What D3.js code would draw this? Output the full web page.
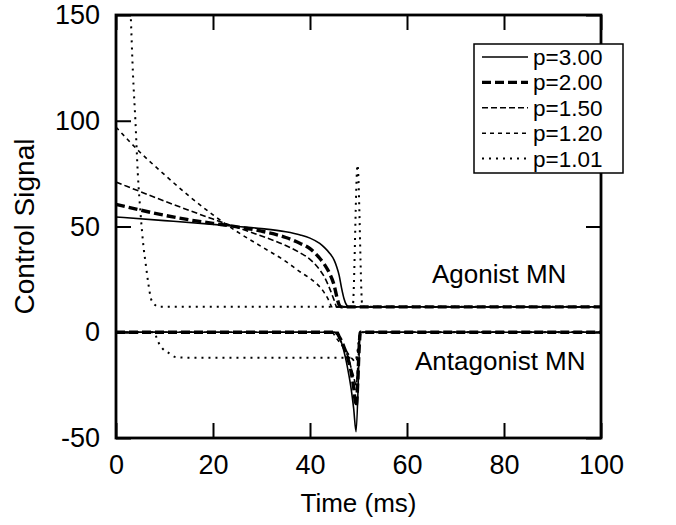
<!DOCTYPE html>
<html>
<head>
<meta charset="utf-8">
<script src="https://cdn.jsdelivr.net/npm/d3@7"></script>
<style>
  html, body { margin: 0; padding: 0; background: #fff; }
  svg { display: block; font-family: "Liberation Sans", Arial, sans-serif; }
</style>
</head>
<body>
<svg id="chart" width="676" height="525"></svg>
<script>
// ---------------- data ----------------
const seriesLabels = ["p=3.00", "p=2.00", "p=1.50", "p=1.20", "p=1.01"];
const xTicks = [0, 20, 40, 60, 80, 100];
const yTicks = [-50, 0, 50, 100, 150];

// Agonist MN
const agT300 = [0, 10, 20, 25, 30, 35, 38, 40, 42, 43, 44, 45, 45.5, 46, 46.5, 47, 47.5, 48, 100];
const agV300 = [54.5, 52.8, 51, 50, 49, 47.5, 46, 44.5, 42, 40, 37.5, 34, 31, 27, 21, 16, 13, 12, 12];
const agT200 = [0, 5, 10, 15, 20, 25, 30, 35, 38, 40, 42, 43, 44, 45, 45.5, 46, 46.5, 100];
const agV200 = [60.5, 57.8, 55.3, 53.2, 51.5, 49.8, 47.8, 44.8, 42, 39.5, 35, 32, 28, 22, 17, 13, 12, 12];
const agT150 = [0, 5, 10, 15, 20, 25, 30, 35, 38, 40, 42, 43, 44, 45, 45.5, 100];
const agV150 = [71, 66.5, 62, 57.7, 53.5, 49.5, 45.5, 41, 37.5, 34.5, 29.5, 26, 21, 15, 12, 12];
const agT120 = [0, 5, 10, 15, 20, 25, 30, 35, 38, 40, 42, 43, 44, 44.5, 100];
const agV120 = [97, 85, 74.5, 64.5, 55.5, 47.5, 40.5, 33.5, 28.5, 25.5, 21.5, 18.5, 14.5, 12, 12];
const agT101 = [0, 1, 2, 3, 3.5, 4, 4.5, 5.1, 5.6, 6.2, 6.7, 7.2, 7.6, 8, 8.9, 48.8, 49.8, 50.8, 100];
const agV101 = [300, 250, 200, 152, 122, 100, 75, 55, 42, 31, 22.5, 16, 14, 13, 12, 12, 79, 12, 12];

// Antagonist MN
const anT300 = [0, 45.5, 46, 46.5, 47, 47.5, 48, 48.5, 49, 49.5, 50.4, 100];
const anV300 = [0, 0, -2, -5, -9, -14, -20, -27, -36, -47, 0, 0];
const anT200 = [0, 45.5, 46, 46.5, 47, 47.5, 48, 48.5, 49, 49.5, 50.4, 100];
const anV200 = [0, 0, -2, -4, -7, -10, -14, -19, -26, -35, 0, 0];
const anT150 = [0, 45, 46, 47, 48, 48.5, 49, 49.5, 50.4, 100];
const anV150 = [0, 0, -3, -7, -13, -17, -21, -25, 0, 0];
const anT120 = [0, 44.5, 45.5, 46.5, 47.5, 48.5, 49.5, 50.4, 100];
const anV120 = [0, 0, -3, -6, -9, -12, -14, 0, 0];
const anT101 = [0, 7.8, 8.7, 9.6, 11, 12.3, 14, 49.5, 50.4, 100];
const anV101 = [0, 0, -4.6, -7.7, -10, -11.7, -12, -12, 0, 0];

// ---------------- styles ----------------
const styles = [
  { w: 1.6, dash: null },
  { w: 3.4, dash: "9,4" },
  { w: 1.6, dash: "6,3" },
  { w: 1.6, dash: "4,4" },
  { w: 2.0, dash: "2,5" }
];

const zip = (ts, vs) => ts.map((t, i) => [t, vs[i]]);
const agonist = [zip(agT300, agV300), zip(agT200, agV200), zip(agT150, agV150), zip(agT120, agV120), zip(agT101, agV101)];
const antagonist = [zip(anT300, anV300), zip(anT200, anV200), zip(anT150, anV150), zip(anT120, anV120), zip(anT101, anV101)];

// ---------------- layout ----------------
const L = 116, R = 601, T = 15, B = 438;
const svg = d3.select("#chart");
const x = d3.scaleLinear().domain([0, 100]).range([L, R]);
const y = d3.scaleLinear().domain([-50, 150]).range([B, T]);

svg.append("defs").append("clipPath").attr("id", "clip")
  .append("rect").attr("x", L).attr("y", T).attr("width", R - L).attr("height", B - T);

const line = d3.line().x(d => x(d[0])).y(d => y(d[1])).curve(d3.curveMonotoneX);

const plot = svg.append("g").attr("clip-path", "url(#clip)");
[4, 3, 2, 0, 1].forEach(i => {
  [agonist[i], antagonist[i]].forEach(data => {
    plot.append("path")
      .datum(data)
      .attr("d", line)
      .attr("fill", "none")
      .attr("stroke", "#000")
      .attr("stroke-width", styles[i].w)
      .attr("stroke-dasharray", styles[i].dash)
      .attr("stroke-linejoin", "round");
  });
});

// axes
const fs = 27;
const fmt = d => String(d);
const ax = (g) => g.call(s => s.select(".domain").remove())
  .call(s => s.selectAll("line").attr("stroke", "#000").attr("stroke-width", 2))
  .call(s => s.selectAll("text").attr("font-size", fs).attr("fill", "#000")
    .attr("font-family", "Liberation Sans, Arial, sans-serif"));

svg.append("g").attr("transform", `translate(0,${B})`)
  .call(d3.axisBottom(x).tickValues(xTicks).tickSize(-15).tickPadding(17).tickFormat(fmt))
  .call(ax);
svg.append("g").attr("transform", `translate(0,${T})`)
  .call(d3.axisTop(x).tickValues(xTicks).tickSize(-15).tickFormat(""))
  .call(ax);
svg.append("g").attr("transform", `translate(${L},0)`)
  .call(d3.axisLeft(y).tickValues(yTicks).tickSize(-15).tickPadding(16).tickFormat(fmt))
  .call(ax);
svg.append("g").attr("transform", `translate(${R},0)`)
  .call(d3.axisRight(y).tickValues(yTicks).tickSize(-15).tickFormat(""))
  .call(ax);

svg.append("rect").attr("x", L).attr("y", T).attr("width", R - L).attr("height", B - T)
  .attr("fill", "none").attr("stroke", "#000").attr("stroke-width", 2.8);

// titles
svg.append("text").attr("x", (L + R) / 2).attr("y", 512).attr("text-anchor", "middle")
  .attr("font-size", 26).text("Time (ms)");
svg.append("text").attr("transform", `translate(34,${(T + B) / 2}) rotate(-90)`)
  .attr("text-anchor", "middle").attr("font-size", 28).text("Control Signal");

// annotations
svg.append("text").attr("x", 432).attr("y", 283).attr("font-size", 26).text("Agonist MN");
svg.append("text").attr("x", 415).attr("y", 370).attr("font-size", 26).text("Antagonist MN");

// legend
const lg = svg.append("g");
lg.append("rect").attr("x", 474).attr("y", 44).attr("width", 149).attr("height", 129)
  .attr("fill", "#fff").attr("stroke", "#000").attr("stroke-width", 1.5);
const rowY = i => 57 + i * 25.4;
seriesLabels.forEach((lab, i) => {
  lg.append("line").attr("x1", 482).attr("x2", 528).attr("y1", rowY(i)).attr("y2", rowY(i))
    .attr("stroke", "#000").attr("stroke-width", styles[i].w)
    .attr("stroke-dasharray", styles[i].dash);
  lg.append("text").attr("x", 533).attr("y", rowY(i) + 8).attr("font-size", 22.5).text(lab);
});
</script>
</body>
</html>
